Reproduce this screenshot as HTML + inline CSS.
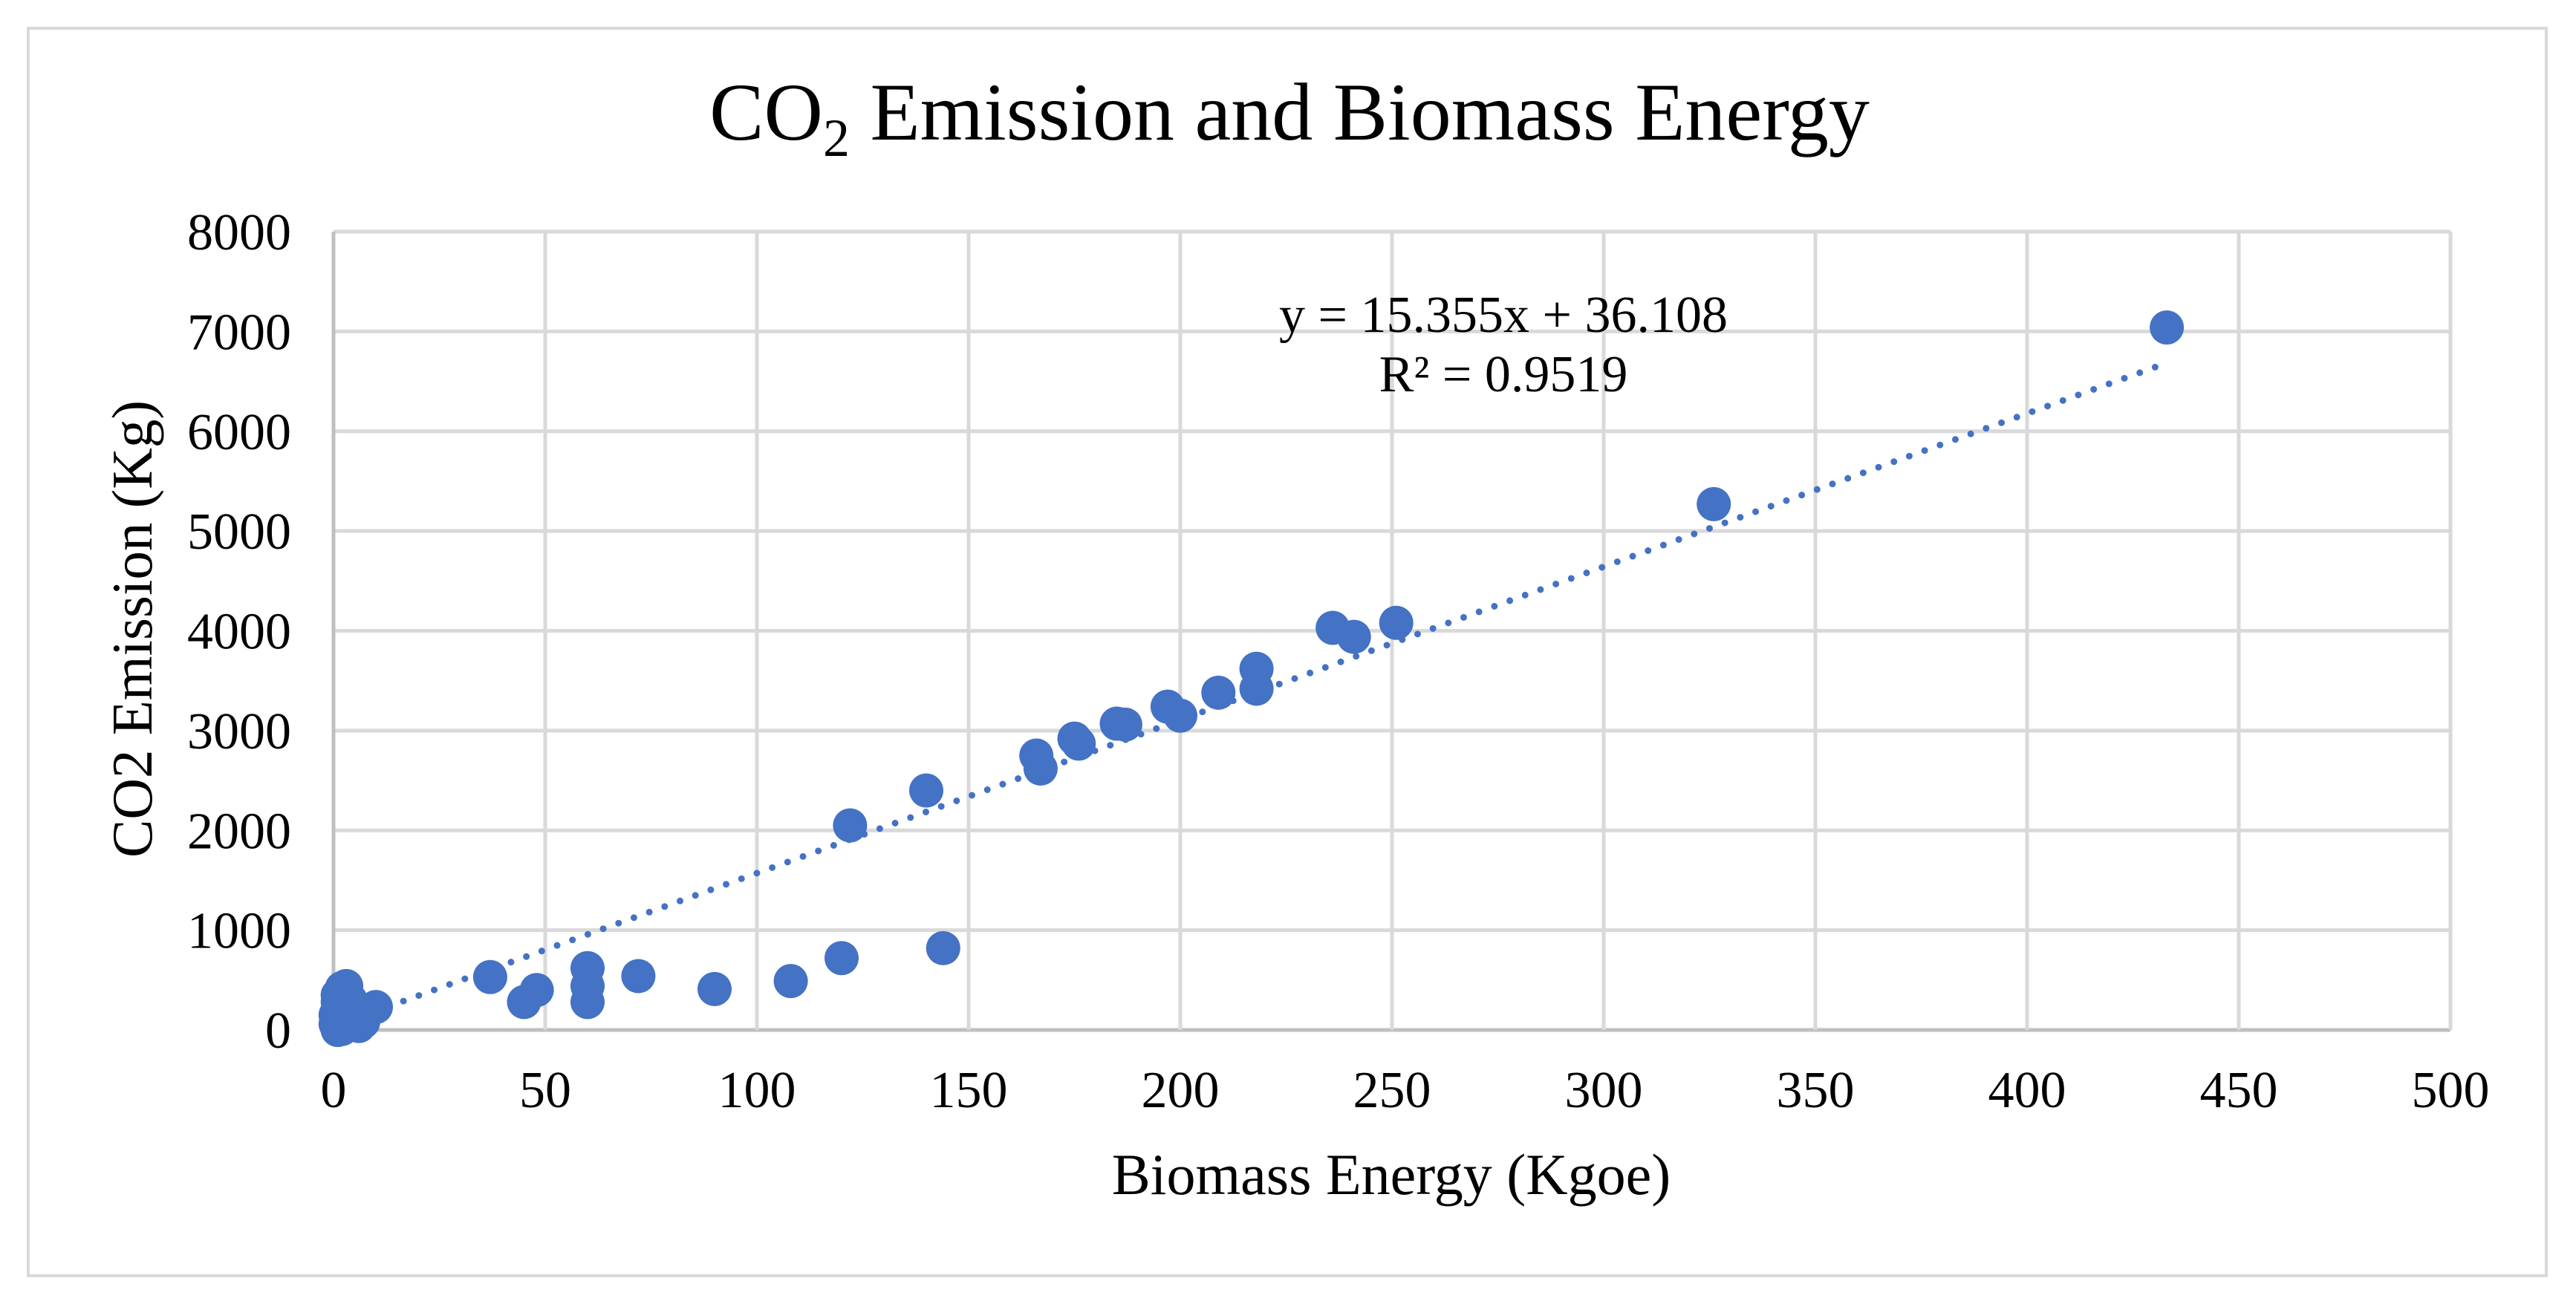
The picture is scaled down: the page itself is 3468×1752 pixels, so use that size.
<!DOCTYPE html>
<html><head><meta charset="utf-8"><style>
html,body{margin:0;padding:0;background:#fff}
svg{display:block;font-family:"Liberation Serif",serif}
</style></head><body>
<svg width="3468" height="1752" viewBox="0 0 3468 1752" id="c">
<rect x="38" y="38" width="3390" height="1680" fill="#fff" stroke="#d9d9d9" stroke-width="4"/>
<text x="1736" y="188" font-size="110" text-anchor="middle">CO<tspan font-size="72" dy="22">2</tspan><tspan dy="-22"> Emission and Biomass Energy</tspan></text>
<g id="grid"></g>
<g id="trend"></g>
<g id="pts"></g>
<text x="2024" y="447" font-size="70" text-anchor="middle">y = 15.355x + 36.108</text>
<text x="2024" y="527" font-size="70" text-anchor="middle">R² = 0.9519</text>
<text transform="translate(204,847) rotate(-90)" font-size="77" text-anchor="middle">CO2 Emission (Kg)</text>
<text x="1873" y="1608" font-size="78" text-anchor="middle">Biomass Energy (Kgoe)</text>
</svg>
<script>
const xTicks=[0,50,100,150,200,250,300,350,400,450,500];
const yTicks=[0,1000,2000,3000,4000,5000,6000,7000,8000];
const xVals=[433,326,251,241,236,218,218,209,200,197,187,185,176,175,167,166,140,122,144,120,108,90,72,60,60,60,48,45,37,10,1,2,3,1,2,3,4,5,6,1,2,4,0.5,7,3,2,1,1.5,2.5,3.5,4.5,0.5,1,2,3,5,6];
const yVals=[7040,5270,4080,3940,4030,3620,3420,3380,3150,3240,3060,3070,2870,2920,2620,2750,2400,2050,820,720,490,410,540,620,440,280,400,280,530,230,350,420,440,200,100,50,150,60,40,30,250,300,150,80,380,20,280,330,180,120,200,60,0,10,120,180,100];
const slope=15.355, intercept=36.108, trendX=[2,432];
const L=449,R=3299,T=312,B=1387;
const sx=v=>L+(v-0)/(500-0)*(R-L);
const sy=v=>B-(v-0)/(8000-0)*(B-T);
const NS="http://www.w3.org/2000/svg";
const svg=document.getElementById('c');
const grid=document.getElementById('grid');
function mk(tag,attrs,parent){const e=document.createElementNS(NS,tag);for(const k in attrs)e.setAttribute(k,attrs[k]);parent.appendChild(e);return e;}
yTicks.forEach(t=>{
  const l=mk('line',{x1:L,x2:R,y1:sy(t),y2:sy(t),stroke:t===0?'#bfbfbf':'#d9d9d9','stroke-width':5},grid);
  
  
  const tx=mk('text',{x:392,y:sy(t)+24,'font-size':70,'text-anchor':'end'},svg);
  tx.textContent=t;
  
  
});
xTicks.forEach(t=>{
  const l=mk('line',{x1:sx(t),x2:sx(t),y1:T,y2:B,stroke:t===0?'#bfbfbf':'#d9d9d9','stroke-width':5},grid);
  
  
  const tx=mk('text',{x:sx(t),y:1491,'font-size':70,'text-anchor':'middle'},svg);
  tx.textContent=t;
  
  
});
const tl=mk('line',{x1:sx(trendX[0]),y1:sy(slope*trendX[0]+intercept),x2:sx(trendX[1]),y2:sy(slope*trendX[1]+intercept),stroke:'#4472c4','stroke-width':9,'stroke-linecap':'round','stroke-dasharray':'0 22'},document.getElementById('trend'));


const pts=document.getElementById('pts');
xVals.forEach((x,i)=>{
  const c=mk('circle',{cx:sx(x),cy:sy(yVals[i]),r:23,fill:'#4472c4'},pts);
  
  
});
</script>
</body></html>
